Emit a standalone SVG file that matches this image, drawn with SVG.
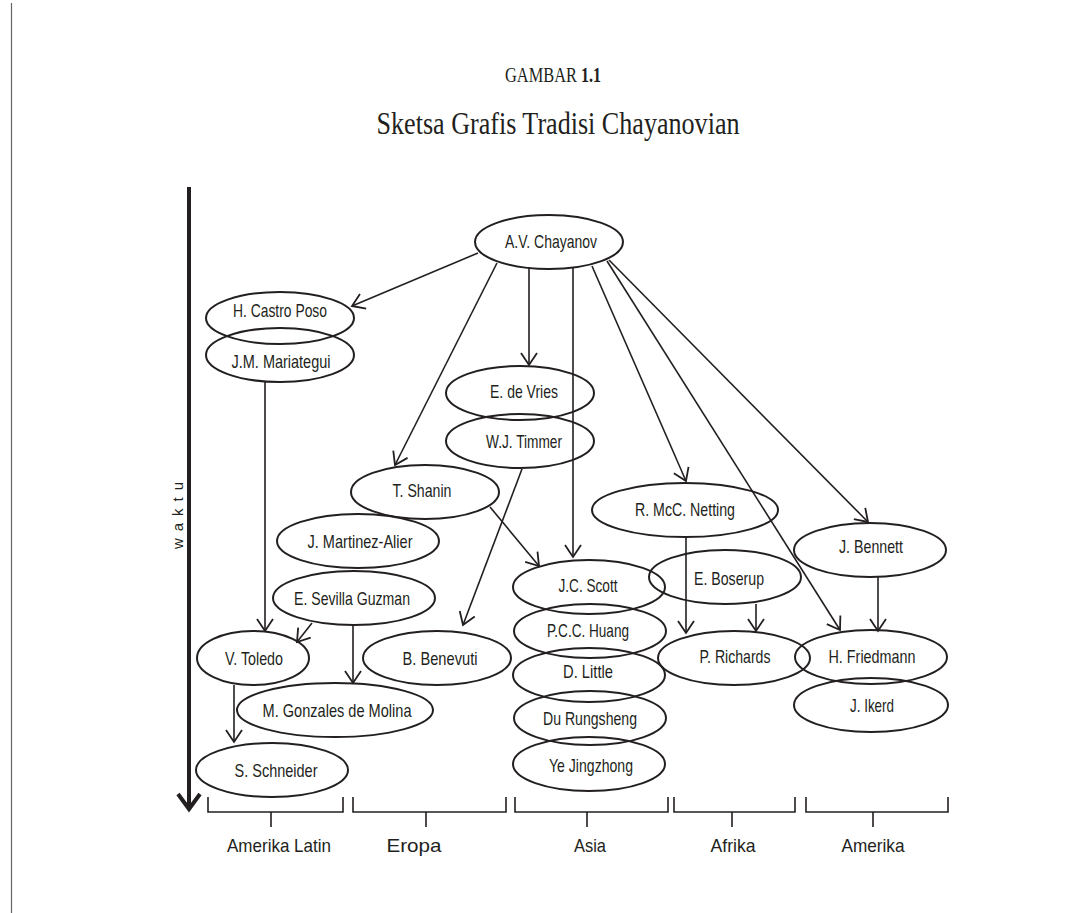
<svg xmlns="http://www.w3.org/2000/svg" width="1086" height="913" viewBox="0 0 1086 913">
<style>
.n ellipse{fill:none;stroke:#231f20;stroke-width:2}
.n text,.lbl{font-family:"Liberation Sans",Arial,sans-serif;font-size:19px;fill:#231f20;text-anchor:middle}
.c line{stroke:#231f20;stroke-width:1.6;fill:none}
.br{fill:none;stroke:#231f20;stroke-width:1.6}
</style>
<defs>
<marker id="ah" viewBox="-14 -10 16 20" refX="0" refY="0" markerWidth="16" markerHeight="20" markerUnits="userSpaceOnUse" orient="auto">
<path d="M-12,-8 L0,0 L-12,8" fill="none" stroke="#231f20" stroke-width="1.8"/>
</marker>
</defs>
<rect width="1086" height="913" fill="#fff"/>
<line x1="11.5" y1="3" x2="11.5" y2="913" stroke="#666" stroke-width="1.2"/>
<text transform="translate(505,82) scale(1,1.28)" font-family="Liberation Serif,serif" font-size="16.4" fill="#231f20">GAMBAR</text>
<text transform="translate(581,82) scale(1,1.28)" font-family="Liberation Serif,serif" font-size="16" font-weight="bold" fill="#231f20">1.1</text>
<text x="558" y="134" font-family="Liberation Serif,serif" font-size="32" fill="#231f20" text-anchor="middle" textLength="363" lengthAdjust="spacingAndGlyphs">Sketsa Grafis Tradisi Chayanovian</text>
<g id="axis">
<line x1="189" y1="187" x2="189" y2="807" stroke="#231f20" stroke-width="4"/>
<path d="M178,794 L189,809 L200,794" fill="none" stroke="#231f20" stroke-width="4"/>
<text transform="translate(183,512) rotate(-90)" font-family="Liberation Sans,sans-serif" font-size="15" fill="#231f20" text-anchor="middle" letter-spacing="7">waktu</text>
</g>
<g id="brackets" class="br">
<path d="M208,797 V812 H343 V797 M271,812 V827"/>
<path d="M353,797 V812 H506 V797 M426,812 V827"/>
<path d="M515,797 V812 H668 V797 M587,812 V827"/>
<path d="M674,797 V812 H795 V797 M732,812 V827"/>
<path d="M806,797 V812 H948 V797 M873,812 V827"/>
</g>
<g id="region-labels">
<text class="lbl" x="279" y="852" textLength="104" lengthAdjust="spacingAndGlyphs">Amerika Latin</text>
<text class="lbl" x="414" y="852" textLength="55" lengthAdjust="spacingAndGlyphs">Eropa</text>
<text class="lbl" x="590" y="852" textLength="32" lengthAdjust="spacingAndGlyphs">Asia</text>
<text class="lbl" x="733" y="852" textLength="45" lengthAdjust="spacingAndGlyphs">Afrika</text>
<text class="lbl" x="873" y="852" textLength="63" lengthAdjust="spacingAndGlyphs">Amerika</text>
</g>
<g id="connectors" class="c">
<line x1="478" y1="253" x2="352" y2="306" marker-end="url(#ah)"/>
<line x1="497" y1="263" x2="395" y2="465" marker-end="url(#ah)"/>
<line x1="529" y1="267" x2="529" y2="365" marker-end="url(#ah)"/>
<line x1="573" y1="268" x2="573" y2="557" marker-end="url(#ah)"/>
<line x1="592" y1="266" x2="686" y2="481" marker-end="url(#ah)"/>
<line x1="607" y1="261" x2="840" y2="630" marker-end="url(#ah)"/>
<line x1="609" y1="260" x2="868" y2="522" marker-end="url(#ah)"/>
<line x1="265" y1="382" x2="265" y2="631" marker-end="url(#ah)"/>
<line x1="522" y1="469" x2="463" y2="625" marker-end="url(#ah)"/>
<line x1="490" y1="507" x2="539" y2="566" marker-end="url(#ah)"/>
<line x1="312" y1="623" x2="297" y2="642" marker-end="url(#ah)"/>
<line x1="353" y1="625" x2="353" y2="683" marker-end="url(#ah)"/>
<line x1="234" y1="685" x2="234" y2="742" marker-end="url(#ah)"/>
<line x1="686" y1="537" x2="686" y2="633" marker-end="url(#ah)"/>
<line x1="756" y1="604" x2="756" y2="631" marker-end="url(#ah)"/>
<line x1="878" y1="577" x2="878" y2="631" marker-end="url(#ah)"/>
</g>
<g id="chayanov" class="n"><ellipse cx="549" cy="242" rx="74" ry="27"/><text x="551" y="248" textLength="92" lengthAdjust="spacingAndGlyphs">A.V. Chayanov</text></g>
<g id="castro-poso" class="n"><ellipse cx="280" cy="318" rx="74" ry="26"/><text x="280" y="317" textLength="94" lengthAdjust="spacingAndGlyphs">H. Castro Poso</text></g>
<g id="mariategui" class="n"><ellipse cx="280" cy="355" rx="74" ry="27"/><text x="281" y="368" textLength="99" lengthAdjust="spacingAndGlyphs">J.M. Mariategui</text></g>
<g id="de-vries" class="n"><ellipse cx="520" cy="393" rx="74" ry="27"/><text x="524" y="398" textLength="68" lengthAdjust="spacingAndGlyphs">E. de Vries</text></g>
<g id="timmer" class="n"><ellipse cx="520" cy="441" rx="74" ry="27"/><text x="524" y="448" textLength="76" lengthAdjust="spacingAndGlyphs">W.J. Timmer</text></g>
<g id="shanin" class="n"><ellipse cx="425" cy="492" rx="74" ry="27"/><text x="422" y="497" textLength="59" lengthAdjust="spacingAndGlyphs">T. Shanin</text></g>
<g id="martinez-alier" class="n"><ellipse cx="358" cy="541" rx="81" ry="27"/><text x="360" y="548" textLength="105" lengthAdjust="spacingAndGlyphs">J. Martinez-Alier</text></g>
<g id="sevilla-guzman" class="n"><ellipse cx="354" cy="598" rx="81" ry="27"/><text x="352" y="605" textLength="116" lengthAdjust="spacingAndGlyphs">E. Sevilla Guzman</text></g>
<g id="toledo" class="n"><ellipse cx="253" cy="658" rx="56" ry="27"/><text x="254" y="665" textLength="58" lengthAdjust="spacingAndGlyphs">V. Toledo</text></g>
<g id="benevuti" class="n"><ellipse cx="437" cy="658" rx="74" ry="27"/><text x="440" y="665" textLength="75" lengthAdjust="spacingAndGlyphs">B. Benevuti</text></g>
<g id="gonzales" class="n"><ellipse cx="335" cy="710" rx="98" ry="27"/><text x="337" y="717" textLength="149" lengthAdjust="spacingAndGlyphs">M. Gonzales de Molina</text></g>
<g id="schneider" class="n"><ellipse cx="272" cy="770" rx="76" ry="27"/><text x="276" y="777" textLength="83" lengthAdjust="spacingAndGlyphs">S. Schneider</text></g>
<g id="scott" class="n"><ellipse cx="589" cy="587" rx="76" ry="27"/><text x="588" y="592" textLength="59" lengthAdjust="spacingAndGlyphs">J.C. Scott</text></g>
<g id="huang" class="n"><ellipse cx="590" cy="631" rx="76" ry="27"/><text x="588" y="637" textLength="82" lengthAdjust="spacingAndGlyphs">P.C.C. Huang</text></g>
<g id="little" class="n"><ellipse cx="589" cy="675" rx="76" ry="27"/><text x="588" y="678" textLength="50" lengthAdjust="spacingAndGlyphs">D. Little</text></g>
<g id="du-rungsheng" class="n"><ellipse cx="590" cy="718" rx="76" ry="27"/><text x="590" y="725" textLength="94" lengthAdjust="spacingAndGlyphs">Du Rungsheng</text></g>
<g id="ye-jingzhong" class="n"><ellipse cx="589" cy="764" rx="76" ry="27"/><text x="591" y="772" textLength="84" lengthAdjust="spacingAndGlyphs">Ye Jingzhong</text></g>
<g id="netting" class="n"><ellipse cx="685" cy="510" rx="93" ry="27"/><text x="685" y="516" textLength="100" lengthAdjust="spacingAndGlyphs">R. McC. Netting</text></g>
<g id="boserup" class="n"><ellipse cx="725" cy="577" rx="76" ry="27"/><text x="729" y="585" textLength="70" lengthAdjust="spacingAndGlyphs">E. Boserup</text></g>
<g id="richards" class="n"><ellipse cx="734" cy="658" rx="76" ry="27"/><text x="735" y="663" textLength="71" lengthAdjust="spacingAndGlyphs">P. Richards</text></g>
<g id="bennett" class="n"><ellipse cx="870" cy="550" rx="76" ry="27"/><text x="871" y="553" textLength="64" lengthAdjust="spacingAndGlyphs">J. Bennett</text></g>
<g id="friedmann" class="n"><ellipse cx="871" cy="657" rx="76" ry="27"/><text x="872" y="663" textLength="87" lengthAdjust="spacingAndGlyphs">H. Friedmann</text></g>
<g id="ikerd" class="n"><ellipse cx="871" cy="705" rx="77" ry="27"/><text x="872" y="712" textLength="44" lengthAdjust="spacingAndGlyphs">J. Ikerd</text></g>
</svg>
